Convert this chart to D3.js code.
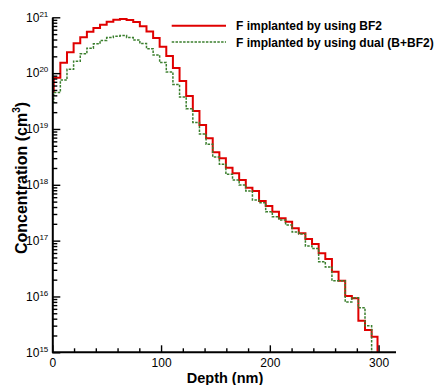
<!DOCTYPE html>
<html>
<head>
<meta charset="utf-8">
<script src="https://cdn.jsdelivr.net/npm/d3@7"></script>
<style>
  body { margin: 0; background: #fff; }
  text { font-family: Arial, "Liberation Sans", sans-serif; }
</style>
</head>
<body>
<svg id="chart" width="434" height="385"></svg>
<script>
// step start depths (nm), shared by both profiles
const depth = [0, 1.3, 7.4, 13.5, 19.6, 25.7, 31.8, 37.8, 43.9, 50.0, 56.1, 62.2, 68.3, 74.4, 80.5,
  86.6, 92.7, 98.7, 104.8, 110.9, 117.0, 123.1, 129.2, 135.3, 141.4, 147.5, 153.6, 159.6, 165.7,
  171.8, 177.9, 184.0, 190.1, 196.2, 202.3, 208.4, 214.5, 220.5, 226.6, 232.7, 238.8, 244.9,
  251.0, 257.1, 263.2, 269.3, 275.4, 281.4, 287.5, 293.6]

// F implanted by using BF2 (cm-3)
const bf2 = [4.6e19, 8.3e19, 1.54e20, 2.36e20, 3.43e20, 4.39e20, 5.52e20, 6.44e20, 7.38e20, 8.36e20,
  9.06e20, 9.33e20, 8.95e20, 8.24e20, 6.90e20, 5.57e20, 4.27e20, 2.98e20, 2.03e20, 1.24e20,
  7.23e19, 3.90e19, 2.10e19, 1.18e19, 6.81e18, 3.82e18, 2.99e18, 2.02e18, 1.61e18, 1.22e18,
  8.87e17, 7.74e17, 5.13e17, 4.17e17, 3.30e17, 2.51e17, 2.18e17, 1.66e17, 1.35e17, 1.07e17,
  8.71e16, 5.93e16, 4.69e16, 2.78e16, 1.91e16, 1.02e16, 9.27e15, 3.68e15, 2.51e15, 1.90e15]
const bf2End = 299

// F implanted by using dual (B+BF2)
const dual = [3.0e19, 4.5e19, 7.5e19, 1.17e20, 1.64e20, 2.22e20, 2.80e20, 3.36e20, 3.85e20, 4.34e20,
  4.6e20, 4.7e20, 4.35e20, 3.93e20, 3.40e20, 2.74e20, 2.11e20, 1.55e20, 1.05e20, 6.27e19,
  3.74e19, 2.31e19, 1.31e19, 8.13e18, 5.33e18, 3.15e18, 2.33e18, 1.54e18, 1.22e18, 9.93e17,
  7.74e17, 5.35e17, 4.78e17, 3.30e17, 2.68e17, 2.34e17, 1.91e17, 1.43e17, 1.32e17, 8.02e16,
  7.23e16, 4.20e16, 3.37e16, 1.91e16, 1.91e16, 7.96e15, 9.51e15, 6.29e15, 2.99e15]
const dualEnd = 293.6

const xMajor = [0, 100, 200, 300]
const xMinor = [20, 40, 60, 80, 120, 140, 160, 180, 220, 240, 260, 280]
const yDomain = [1e15, 1e21]

const series = [
  { name: 'F implanted by using BF2', values: bf2, end: bf2End, color: '#e00000', width: 2, dash: null },
  { name: 'F implanted by using dual (B+BF2)', values: dual, end: dualEnd, color: '#3b7f2e', width: 1.5, dash: '2.5,1.3' }
]

const svg = d3.select('#chart')

const x = d3.scaleLinear().domain([0, 316]).range([52.3, 396])
const y = d3.scaleLog().domain(yDomain).range([352.3, 17.3])
const y0 = y.range()[0]

const line = d3.line()
  .x((d) => x(d[0]))
  .y((d) => y(d[1]))
  .curve(d3.curveStepAfter)

const plot = svg.append('g')
series.forEach((s) => {
  const pts = s.values.map((v, i) => [depth[i], v])
  pts.push([s.end, yDomain[0]])
  plot.append('path')
    .attr('d', line(pts))
    .attr('fill', 'none')
    .attr('stroke', s.color)
    .attr('stroke-width', s.width)
    .attr('stroke-dasharray', s.dash)
})

// x axis
const xAxis = svg.append('g').attr('transform', `translate(0,${y0})`)
xAxis.append('g')
  .call(d3.axisBottom(x).tickValues(xMinor).tickSize(-4).tickFormat(''))
  .call((g) => g.select('.domain').remove())
xAxis.append('g')
  .call(d3.axisBottom(x).tickValues(xMajor).tickSize(-7).tickSizeOuter(0).tickPadding(6))
  .call((g) => g.select('.domain').attr('d', `M${x.range()[0]},0H${x.range()[1]}`))
  .call((g) => g.selectAll('text').attr('font-size', 12).attr('fill', '#000'))
xAxis.selectAll('line, path').attr('stroke', '#000').attr('stroke-width', 1.4)
xAxis.selectAll('.domain').attr('stroke-width', 2)

// y axis
const yMajor = y.ticks().filter((d) => Math.abs(Math.log10(d) - Math.round(Math.log10(d))) < 1e-9)
const yMinor = y.ticks().filter((d) => !yMajor.includes(d))
const yAxis = svg.append('g').attr('transform', `translate(${x.range()[0]},0)`)
yAxis.append('g')
  .call(d3.axisLeft(y).tickValues(yMinor).tickSize(-5).tickFormat(''))
  .call((g) => g.select('.domain').remove())
yAxis.append('g')
  .call(d3.axisLeft(y).tickValues(yMajor).tickSize(-8).tickSizeOuter(0).tickPadding(4))
  .call((g) => g.selectAll('.tick text')
    .attr('font-size', 12)
    .attr('fill', '#000')
    .each(function (d) {
      const t = d3.select(this).text('')
      t.append('tspan').text('10')
      t.append('tspan').attr('font-size', 8).attr('dy', -5).text(Math.round(Math.log10(d)))
    }))
yAxis.selectAll('line, path').attr('stroke', '#000').attr('stroke-width', 1.4)
yAxis.selectAll('.domain').attr('stroke-width', 2)

// axis titles
svg.append('text')
  .attr('x', 225)
  .attr('y', 383)
  .attr('text-anchor', 'middle')
  .attr('font-size', 14.5)
  .attr('font-weight', 'bold')
  .text('Depth (nm)')

const yTitle = svg.append('text')
  .attr('transform', 'translate(26.5,178) rotate(-90)')
  .attr('text-anchor', 'middle')
  .attr('font-size', 16)
  .attr('font-weight', 'bold')
yTitle.append('tspan').text('Concentration (cm')
yTitle.append('tspan').attr('font-size', 10).attr('dy', -7).text('3')
yTitle.append('tspan').attr('dy', 7).text(')')

// legend
const legend = svg.append('g').attr('transform', 'translate(171.7,25.7)')
series.forEach((s, i) => {
  const row = legend.append('g').attr('transform', `translate(0,${i * 16.3})`)
  row.append('line')
    .attr('x1', 0).attr('x2', 54.3)
    .attr('stroke', s.color)
    .attr('stroke-width', s.width)
    .attr('stroke-dasharray', s.dash)
  row.append('text')
    .attr('x', 64.3)
    .attr('y', 4.5)
    .attr('font-size', 12)
    .attr('font-weight', 'bold')
    .text(s.name)
})
</script>
</body>
</html>
